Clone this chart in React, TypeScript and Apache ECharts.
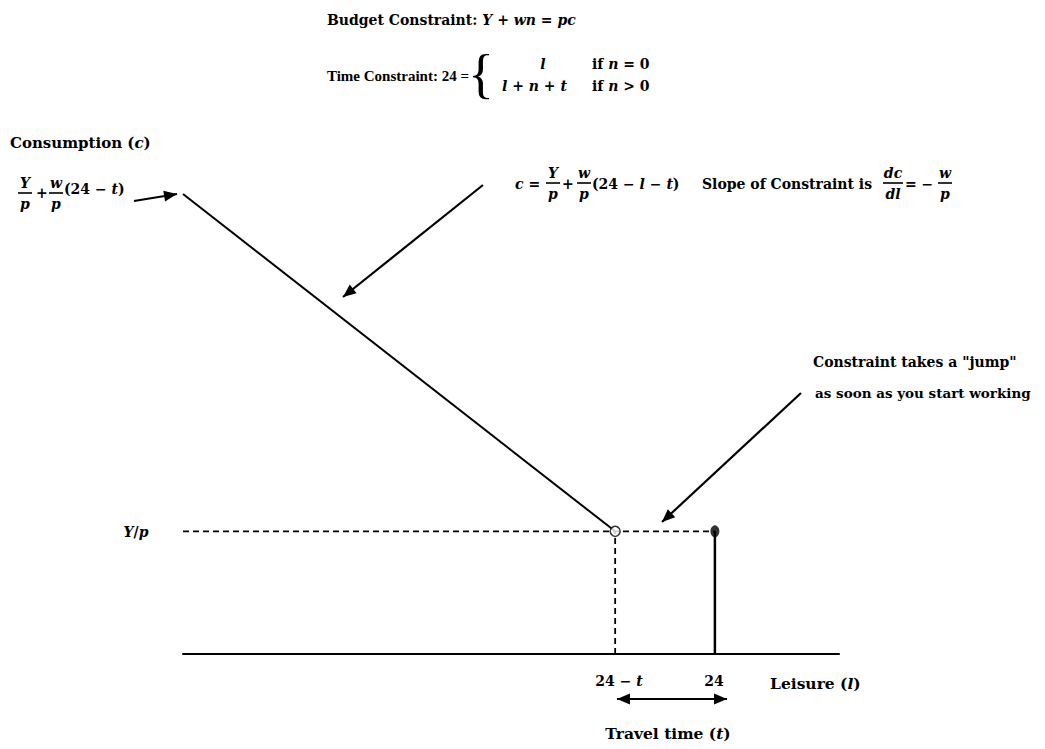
import React, { useEffect, useRef } from "react";
import * as echarts from "echarts";

// ---- data (leisure on x, consumption on y) ----
const budgetLine: number[][] = [[0, 15], [19.5, 4]]; // c = Y/p + w/p(24 - l - t)
const incomeLine: number[][] = [[0, 4], [24, 4]]; // Y/p
const travelLeisure: number[][] = [[19.5, 0], [19.5, 4]]; // 24 - t
const workJump: number[][] = [[24, 0], [24, 4]]; // 24
const openPoint: number[][] = [[19.5, 4]];
const closedPoint: number[][] = [[24, 4]];
const xRange = [0, 29.6];
const yRange = [0, 15];

const FONT = '"DejaVu Serif", "Liberation Serif", serif';

type Part = [string, boolean];

const txt = (x: number, y: number, text: string, size = 14, italic = false, align = "left", family = FONT) => ({
  type: "text",
  x,
  y,
  silent: true,
  style: {
    text,
    fill: "#000",
    fontFamily: family,
    fontSize: size,
    fontWeight: "bold",
    fontStyle: italic ? "italic" : "normal",
    align,
    verticalAlign: "middle",
  },
});

const rtxt = (x: number, y: number, parts: Part[], size = 14, align = "left") => ({
  type: "text",
  x,
  y,
  silent: true,
  style: {
    text: parts.map(([s, it]) => `{${it ? "i" : "n"}|${s}}`).join(""),
    rich: {
      n: { fontFamily: FONT, fontSize: size, fontWeight: "bold", fill: "#000" },
      i: { fontFamily: FONT, fontSize: size, fontWeight: "bold", fontStyle: "italic", fill: "#000" },
    },
    fill: "#000",
    align,
    verticalAlign: "middle",
  },
});

const frac = (cx: number, by: number, num: string, den: string, w = 14) => [
  txt(cx, by - 10, num, 14, true, "center"),
  {
    type: "line",
    silent: true,
    shape: { x1: cx - w / 2, y1: by, x2: cx + w / 2, y2: by },
    style: { stroke: "#000", lineWidth: 1.6 },
  },
  txt(cx, by + 11, den, 14, true, "center"),
];

const head = (tx: number, ty: number, ang: number, len = 13, hw = 5.5) => {
  const bx = tx - Math.cos(ang) * len;
  const by = ty - Math.sin(ang) * len;
  const px = -Math.sin(ang) * hw;
  const py = Math.cos(ang) * hw;
  return {
    type: "polygon",
    silent: true,
    shape: { points: [[tx, ty], [bx + px, by + py], [bx - px, by - py]] },
    style: { fill: "#000" },
  };
};

const arrow = (x1: number, y1: number, x2: number, y2: number, both = false) => {
  const ang = Math.atan2(y2 - y1, x2 - x1);
  const els: any[] = [
    {
      type: "line",
      silent: true,
      shape: { x1, y1, x2, y2 },
      style: { stroke: "#000", lineWidth: 2.2 },
    },
    head(x2, y2, ang),
  ];
  if (both) els.push(head(x1, y1, ang + Math.PI));
  return els;
};

export default function App() {
  const ref = useRef<HTMLDivElement>(null);
  useEffect(() => {
    if (!ref.current) return;
    const chart = echarts.init(ref.current, null, { renderer: "svg" });
    const black = "#000";
    const graphic: any[] = [
      rtxt(327, 20, [["Budget Constraint: ", false], ["Y", true], [" + ", false], ["wn", true], [" = ", false], ["pc", true]]),
      txt(469, 76, "Time Constraint: 24 =", 15, false, "right", '"Liberation Serif", serif'),
      {
        type: "text",
        x: 481,
        y: 74,
        silent: true,
        style: { text: "{", fill: black, fontFamily: '"Liberation Serif", serif', fontSize: 54, align: "center", verticalAlign: "middle" },
      },
      rtxt(543, 64, [["l", true]], 14, "center"),
      rtxt(592, 64, [["if ", false], ["n", true], [" = 0", false]]),
      rtxt(502, 86, [["l", true], [" + ", false], ["n", true], [" + ", false], ["t", true]]),
      rtxt(592, 86, [["if ", false], ["n", true], [" > 0", false]]),

      rtxt(10, 143, [["Consumption (", false], ["c", true], [")", false]], 15),
      ...frac(25, 193, "Y", "p"),
      txt(36, 193, "+"),
      ...frac(56, 193, "w", "p"),
      rtxt(64, 189, [["(24 − ", false], ["t", true], [")", false]]),
      ...arrow(134, 201, 177, 194),

      rtxt(515, 184, [["c", true], [" =", false]]),
      ...frac(553, 183, "Y", "p"),
      txt(562, 184, "+"),
      ...frac(584, 183, "w", "p"),
      rtxt(592, 184, [["(24 − ", false], ["l", true], [" − ", false], ["t", true], [")", false]]),
      txt(702, 184, "Slope of Constraint is"),
      ...frac(893, 183, "dc", "dl", 20),
      txt(905, 184, "= −"),
      ...frac(945, 183, "w", "p"),
      ...arrow(483, 185, 343, 297),

      rtxt(813, 362, [["Constraint takes a \"jump\"", false]]),
      rtxt(815, 393, [["as soon as you start working", false]], 13.5),
      ...arrow(801, 393, 662, 522),

      rtxt(136, 532, [["Y", true], ["/", false], ["p", true]], 14, "center"),
      rtxt(619, 681, [["24 − ", false], ["t", true]], 14, "center"),
      txt(714, 681, "24", 14, false, "center"),
      rtxt(770, 683, [["Leisure (", false], ["l", true], [")", false]], 15.5),
      ...arrow(617, 699, 727, 699, true),
      rtxt(668, 733, [["Travel time (", false], ["t", true], [")", false]], 15.5, "center"),
    ];

    chart.setOption({
      animation: false,
      backgroundColor: "#fff",
      grid: { left: 183, right: 206, top: 194, bottom: 95, containLabel: false },
      xAxis: {
        type: "value",
        min: xRange[0],
        max: xRange[1],
        axisLine: { show: true, lineStyle: { color: black, width: 2 } },
        axisTick: { show: false },
        axisLabel: { show: false },
        splitLine: { show: false },
      },
      yAxis: {
        type: "value",
        min: yRange[0],
        max: yRange[1],
        show: false,
        splitLine: { show: false },
      },
      series: [
        {
          type: "line",
          data: budgetLine,
          symbol: "none",
          lineStyle: { color: black, width: 2 },
          z: 3,
        },
        {
          type: "line",
          data: incomeLine,
          symbol: "none",
          lineStyle: { color: black, width: 1.8, type: [6, 4] },
          z: 2,
        },
        {
          type: "line",
          data: travelLeisure,
          symbol: "none",
          lineStyle: { color: black, width: 1.8, type: [6, 4] },
          z: 2,
        },
        {
          type: "line",
          data: workJump,
          symbol: "none",
          lineStyle: { color: black, width: 2.5 },
          z: 2,
        },
        {
          type: "scatter",
          data: openPoint,
          symbol: "circle",
          symbolSize: 10,
          itemStyle: { color: "#fff", borderColor: black, borderWidth: 1.5 },
          z: 5,
        },
        {
          type: "scatter",
          data: closedPoint,
          symbol: "circle",
          symbolSize: [9, 12],
          itemStyle: { color: black },
          z: 5,
        },
      ],
      graphic,
    });
    return () => chart.dispose();
  }, []);
  return (
    <div
      ref={ref}
      style={{ position: "fixed", left: 0, top: 0, width: 1045, height: 749, background: "#fff" }}
    />
  );
}
